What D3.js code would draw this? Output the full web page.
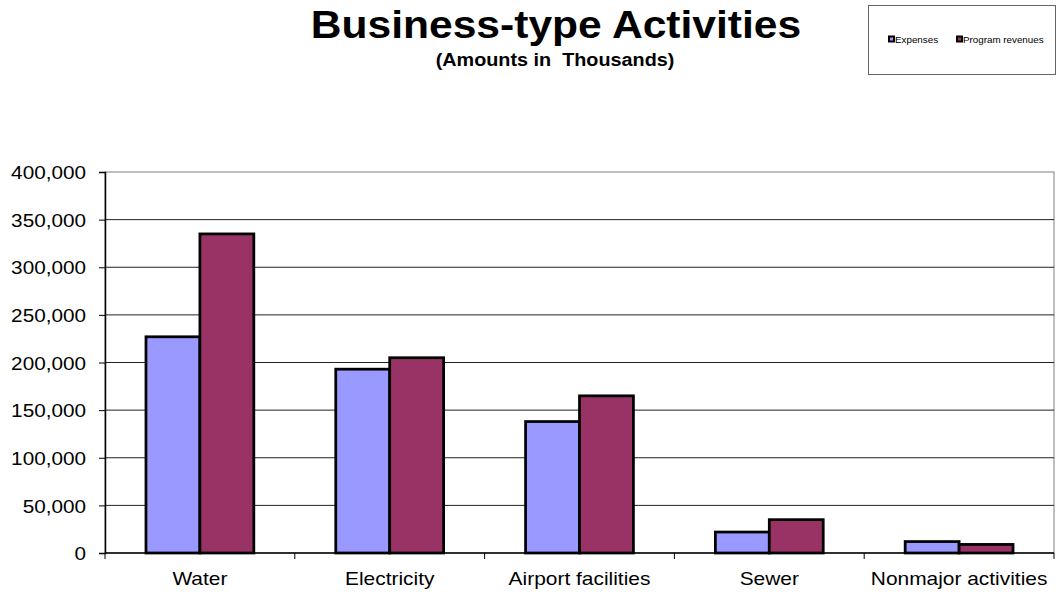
<!DOCTYPE html>
<html>
<head>
<meta charset="utf-8">
<script src="https://cdn.jsdelivr.net/npm/d3@7"></script>
<style>
  html, body { margin: 0; padding: 0; background: #fff; }
  svg { display: block; font-family: "Liberation Sans", Arial, sans-serif; }
</style>
</head>
<body>
<svg id="chart" width="1056" height="592"></svg>
<script>
// Business-type activities, amounts in thousands
const categories = ["Water", "Electricity", "Airport facilities", "Sewer", "Nonmajor activities"];
const seriesNames = ["Expenses", "Program revenues"];
const expenses = [227000, 193000, 138000, 22000, 12000];
const programRevenues = [335000, 205000, 165000, 35000, 9000];
const yTicks = [0, 50000, 100000, 150000, 200000, 250000, 300000, 350000, 400000];
const colors = ["#9999FF", "#993366"];

const svg = d3.select("#chart");
const plot = { left: 105, right: 1054, top: 172, bottom: 553 };

const x0 = d3.scaleBand().domain(categories).range([plot.left, plot.right]).padding(0);
const x1 = d3.scaleBand().domain(seriesNames).range([0, x0.bandwidth()]).paddingInner(0).paddingOuter(0.76);
const y = d3.scaleLinear().domain([0, 400000]).range([plot.bottom, plot.top]);
const color = d3.scaleOrdinal().domain(seriesNames).range(colors);

// widen glyphs horizontally by factor k
function stretch(sel, k) {
  sel.each(function () {
    const w = this.getComputedTextLength();
    d3.select(this).attr("textLength", w * k).attr("lengthAdjust", "spacingAndGlyphs");
  });
}

// Plot area frame
svg.append("rect")
  .attr("x", plot.left).attr("y", plot.top)
  .attr("width", plot.right - plot.left).attr("height", plot.bottom - plot.top)
  .attr("fill", "none").attr("stroke", "#808080").attr("stroke-width", 1);

// Horizontal gridlines
svg.append("g").selectAll("line")
  .data(yTicks.filter(t => t > 0 && t < 400000))
  .join("line")
  .attr("x1", plot.left).attr("x2", plot.right)
  .attr("y1", d => y(d)).attr("y2", d => y(d))
  .attr("stroke", "#222").attr("stroke-width", 1);

// Y axis
const yAxis = svg.append("g")
  .attr("transform", `translate(${plot.left},0)`)
  .call(d3.axisLeft(y).tickValues(yTicks).tickSize(6).tickPadding(13).tickFormat(d3.format(",")));
yAxis.select(".domain").attr("stroke", "#000").attr("stroke-width", 1.5);
yAxis.selectAll(".tick line").attr("stroke", "#000");
yAxis.selectAll(".tick text")
  .attr("font-family", "Liberation Sans, Arial, sans-serif")
  .attr("font-size", 18.5).attr("fill", "#000").attr("dy", "0.36em");
stretch(yAxis.selectAll(".tick text"), 1.12);

// Bars
const rows = categories.map((c, i) => ({ category: c, values: [expenses[i], programRevenues[i]] }));
svg.append("g").selectAll("g")
  .data(rows)
  .join("g")
  .attr("transform", d => `translate(${x0(d.category)},0)`)
  .selectAll("rect")
  .data(d => seriesNames.map((s, j) => ({ series: s, value: d.values[j] })))
  .join("rect")
  .attr("x", d => x1(d.series))
  .attr("y", d => y(d.value))
  .attr("width", x1.bandwidth())
  .attr("height", d => y(0) - y(d.value))
  .attr("fill", d => color(d.series))
  .attr("stroke", "#000").attr("stroke-width", 2.75);

// X axis with ticks between categories
const xAxis = svg.append("g").attr("transform", `translate(0,${plot.bottom})`);
xAxis.append("line")
  .attr("x1", plot.left).attr("x2", plot.right)
  .attr("stroke", "#000").attr("stroke-width", 1.5);
const bounds = categories.map(c => x0(c)).concat([plot.right]);
xAxis.selectAll("line.tk")
  .data(bounds)
  .join("line").attr("class", "tk")
  .attr("x1", d => d).attr("x2", d => d)
  .attr("y1", 0).attr("y2", 6)
  .attr("stroke", "#000");
const catLabels = xAxis.selectAll("text")
  .data(categories)
  .join("text")
  .attr("x", d => x0(d) + x0.bandwidth() / 2)
  .attr("y", 32)
  .attr("text-anchor", "middle")
  .attr("font-size", 18.5)
  .attr("fill", "#000")
  .text(d => d);
stretch(catLabels, 1.13);

// Titles
const title = svg.append("text")
  .attr("x", 556).attr("y", 38)
  .attr("text-anchor", "middle")
  .attr("font-size", 38).attr("font-weight", "bold")
  .text("Business-type Activities");
stretch(title, 1.12);
const subtitle = svg.append("text")
  .attr("x", 555).attr("y", 66)
  .attr("text-anchor", "middle")
  .attr("font-size", 18).attr("font-weight", "bold")
  .style("white-space", "pre")
  .text("(Amounts in  Thousands)");
stretch(subtitle, 1.1);

// Legend
const legend = svg.append("g");
legend.append("rect")
  .attr("x", 868.5).attr("y", 5.5).attr("width", 187).attr("height", 69)
  .attr("fill", "#fff").attr("stroke", "#666").attr("stroke-width", 1);
const legendX = [888, 956];
const items = legend.selectAll("g.item")
  .data(seriesNames)
  .join("g").attr("class", "item")
  .attr("transform", (d, i) => `translate(${legendX[i]},35.5)`);
items.append("rect")
  .attr("x", 0).attr("y", 0).attr("width", 7).attr("height", 7)
  .attr("fill", "#000");
items.append("rect")
  .attr("x", 2).attr("y", 2).attr("width", 3).attr("height", 3)
  .attr("fill", d => color(d));
items.append("text")
  .attr("x", 7).attr("y", 7)
  .attr("font-size", 9.8).attr("fill", "#000")
  .text(d => d);
</script>
</body>
</html>
